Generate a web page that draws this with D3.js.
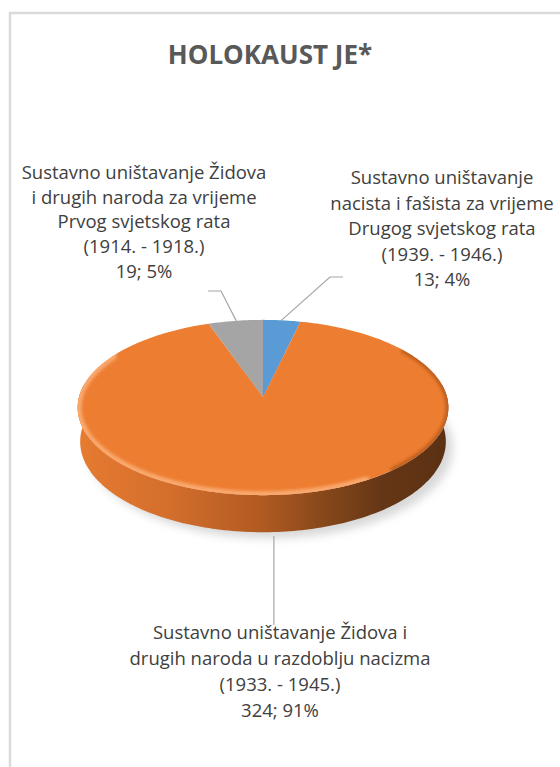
<!DOCTYPE html>
<html>
<head>
<meta charset="utf-8">
<script src="https://cdn.jsdelivr.net/npm/d3@7"></script>
<style>
body { margin: 0; background: #fff; }
svg { display: block; font-family: "Open Sans", "Noto Sans", sans-serif; }
</style>
</head>
<body>
<svg id="chart" width="560" height="767"></svg>
<script>
var title = "HOLOKAUST JE*";
// slices in Excel order: clockwise from 12 o'clock
var categories = [
    ["Sustavno uništavanje", "nacista i fašista za vrijeme", "Drugog svjetskog rata", "(1939. - 1946.)"],
    ["Sustavno uništavanje Židova i", "drugih naroda u razdoblju nacizma", "(1933. - 1945.)"],
    ["Sustavno uništavanje Židova", "i drugih naroda za vrijeme", "Prvog svjetskog rata", "(1914. - 1918.)"]
];
var values = [13, 324, 19];
var colors = ["#5B9BD5", "#ED7D31", "#A5A5A5"];

var svg = d3.select("#chart");
var defs = svg.append("defs");

// chart area border
svg.append("rect")
    .attr("x", 10).attr("y", 13)
    .attr("width", 600).attr("height", 800)
    .attr("fill", "#fff")
    .attr("stroke", "#dadada")
    .attr("stroke-width", 2.5);

svg.append("text")
    .attr("x", 270).attr("y", 64)
    .attr("text-anchor", "middle")
    .attr("font-size", 26)
    .attr("font-weight", "bold")
    .attr("fill", "#595959")
    .text(title);

// 3d projection of the pie disc
var cx = 263, cy = 397, R = 184, h = 39, D = 1355;
var tilt = 28 * Math.PI / 180;
function project(a, r, z) {
    var X = r * Math.sin(a), Y = r * Math.cos(a);
    var depth = Y * Math.cos(tilt) - z * Math.sin(tilt);
    var s = D / (D + depth);
    return [cx + X * s, cy - (Y * Math.sin(tilt) + z * Math.cos(tilt)) * s];
}
function arcPts(a0, a1, z) {
    var n = Math.max(2, Math.ceil(Math.abs(a1 - a0) / 0.02));
    var pts = [];
    for (var i = 0; i <= n; i++) pts.push(project(a0 + (a1 - a0) * i / n, R, z));
    return pts;
}
var line = d3.line();

var pie = d3.pie().sort(null).value(d => d);
var arcs = pie(values);
var total = d3.sum(values);
var pct = d3.format(".0%");

// shadow
var shadowF = defs.append("filter").attr("id", "shadow")
    .attr("x", "-20%").attr("y", "-20%").attr("width", "140%").attr("height", "140%");
shadowF.append("feGaussianBlur").attr("stdDeviation", 4);
svg.append("path")
    .attr("d", line(arcPts(0, 2 * Math.PI, -h)) + "Z")
    .attr("transform", "translate(7,6)")
    .attr("fill", "#c8c8c8")
    .attr("opacity", 0.7)
    .attr("filter", "url(#shadow)");

// side wall gradient
var sideGrad = defs.append("linearGradient").attr("id", "sideGrad")
    .attr("gradientUnits", "userSpaceOnUse")
    .attr("x1", cx - R).attr("x2", cx + R).attr("y1", 0).attr("y2", 0);
[[0, "#e67b31"], [0.25, "#d36e2c"], [0.5, "#b05a21"], [0.68, "#83461a"], [0.82, "#663716"], [1, "#5b3013"]]
    .forEach(s => sideGrad.append("stop").attr("offset", s[0]).attr("stop-color", s[1]));

// visible outer wall of each slice (front half)
arcs.forEach(function(d, i) {
    var a0 = Math.max(d.startAngle, Math.PI / 2 - 0.15);
    var a1 = Math.min(d.endAngle, 3 * Math.PI / 2 + 0.15);
    if (a0 >= a1) return;
    var pts = arcPts(a0, a1, 0).concat(arcPts(a1, a0, -h));
    svg.append("path")
        .attr("d", line(pts) + "Z")
        .attr("fill", i === 1 ? "url(#sideGrad)" : d3.color(colors[i]).darker(1));
});

// top face slices
svg.selectAll(".slice")
    .data(arcs)
    .join("path")
    .attr("class", "slice")
    .attr("d", d => line([project(0, 0, 0)].concat(arcPts(d.startAngle, d.endAngle, 0))) + "Z")
    .attr("fill", (d, i) => colors[i]);

// rounded rim light / dark
defs.append("clipPath").attr("id", "topClip")
    .append("path").attr("d", line(arcPts(0, 2 * Math.PI, 0)) + "Z");
var rimF = defs.append("filter").attr("id", "rimBlur");
rimF.append("feGaussianBlur").attr("stdDeviation", 1.6);
var rim = svg.append("g").attr("clip-path", "url(#topClip)");
rim.append("path")
    .attr("d", line(arcPts(150 * Math.PI / 180, 300 * Math.PI / 180, 0)))
    .attr("fill", "none")
    .attr("stroke", "#f9a86e")
    .attr("stroke-width", 8)
    .attr("stroke-linecap", "round")
    .attr("filter", "url(#rimBlur)");
rim.append("path")
    .attr("d", line(arcPts(55 * Math.PI / 180, 140 * Math.PI / 180, 0)))
    .attr("fill", "none")
    .attr("stroke", "#b35a1f")
    .attr("stroke-width", 6)
    .attr("stroke-linecap", "round")
    .attr("opacity", 0.8)
    .attr("filter", "url(#rimBlur)");

// data labels
var labelPos = [
    { x: 442, y: 184, lh: 25.5, ax: 343, ay: 277, dx: -13 },
    { x: 280, y: 639, lh: 26, ay: 625 },
    { x: 144, y: 179, lh: 24.7, ax: 208, ay: 291, dx: 13 }
];

arcs.forEach(function(d, i) {
    var mid = (d.startAngle + d.endAngle) / 2;
    var p = labelPos[i];
    var pts;
    if (mid > Math.PI / 2 && mid < 3 * Math.PI / 2) {
        var s = project(mid, R, -h);
        pts = [[s[0], s[1] + 4], [s[0], p.ay]];
    } else {
        var s = project(mid, R * 0.97, 0);
        pts = [[s[0], s[1] - 2], [p.ax + p.dx, p.ay], [p.ax, p.ay]];
    }
    svg.append("path")
        .attr("d", line(pts))
        .attr("fill", "none")
        .attr("stroke", "#a6a6a6")
        .attr("stroke-width", 1.2);

    var lines = categories[i].concat([values[i] + "; " + pct(values[i] / total)]);
    svg.append("text")
        .attr("text-anchor", "middle")
        .attr("font-size", 18.5)
        .attr("fill", "#404040")
        .selectAll("tspan")
        .data(lines)
        .join("tspan")
        .attr("x", p.x)
        .attr("y", (t, j) => p.y + j * p.lh)
        .text(t => t);
});
</script>
</body>
</html>
